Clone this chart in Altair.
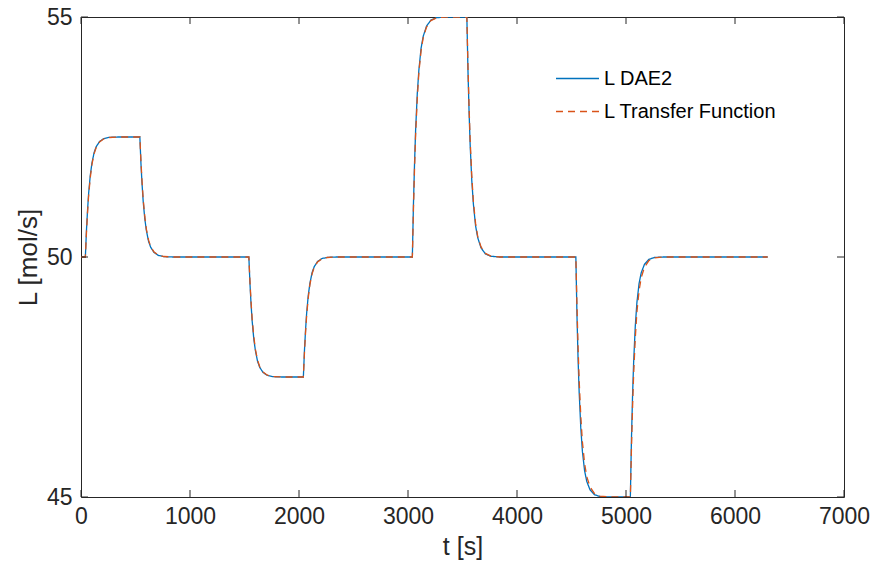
import altair as alt
import pandas as pd

# Step schedule
step_times = [40, 540, 1540, 2040, 3040, 3540, 4540, 5040]
step_levels = [52.5, 50.0, 47.5, 50.0, 55.0, 50.0, 45.0, 50.0]
t_start, t_end, L0 = 0, 6300, 50.0

# Shape of each transition (fraction of the step completed)
offsets = [0, 10, 20, 30, 45, 60, 80, 100, 130, 170, 220, 300]
frac_tf = [0, 0.20, 0.37, 0.51, 0.66, 0.77, 0.86, 0.915, 0.958, 0.985, 0.996, 1.0]
frac_dae = [0, 0.22, 0.39, 0.53, 0.68, 0.78, 0.87, 0.92, 0.962, 0.987, 0.997, 1.0]
frac_dae_fast = [0, 0.24, 0.42, 0.56, 0.71, 0.81, 0.89, 0.935, 0.97, 0.99, 0.998, 1.0]
fast_steps = [4540, 5040]

x_ticks = [0, 1000, 2000, 3000, 4000, 5000, 6000, 7000]
y_ticks = [45, 50, 55]

series_names = ["L DAE2", "L Transfer Function"]
colors = ["#0072BD", "#D95319"]


def build(fracs_for):
    ts, ls = [t_start], [L0]
    prev = L0
    for st, lv in zip(step_times, step_levels):
        fr = fracs_for(st)
        for o, f in zip(offsets, fr):
            ts.append(st + o)
            ls.append(prev + (lv - prev) * f)
        prev = lv
    ts.append(t_end)
    ls.append(prev)
    return ts, ls


t_dae, l_dae = build(lambda st: frac_dae_fast if st in fast_steps else frac_dae)
t_tf, l_tf = build(lambda st: frac_tf)

df_dae = pd.DataFrame({"t": t_dae, "L": l_dae, "series": series_names[0]})
df_tf = pd.DataFrame({"t": t_tf, "L": l_tf, "series": series_names[1]})

W, H = 763, 480
xscale = alt.Scale(domain=[0, 7000], nice=False, zero=False)
yscale = alt.Scale(domain=[45, 55], nice=False, zero=False)
color_scale = alt.Scale(domain=series_names, range=colors)
dash_scale = alt.Scale(domain=series_names, range=[[1, 0], [7, 5]])

legend = alt.Legend(
    title=None, orient="none", legendX=474, legendY=39,
    symbolType="stroke", symbolSize=1849, symbolStrokeWidth=1.3,
    labelFontSize=20, labelFont="Liberation Sans", labelColor="#000000",
    labelOffset=4, rowPadding=0, padding=0, labelLimit=400
)

xaxis = alt.Axis(values=x_ticks, format="d", ticks=False, domain=False, grid=False,
                 labelFlush=False,
                 labelFontSize=23, labelFont="Liberation Sans", labelColor="#262626",
                 labelPadding=8, title="t [s]", titleFontSize=25, titleFont="Liberation Sans",
                 titleFontWeight="normal", titleColor="#262626", titlePadding=6)
yaxis = alt.Axis(values=y_ticks, format="d", ticks=False, domain=False, grid=False,
                 labelFlush=False,
                 labelFontSize=23, labelFont="Liberation Sans", labelColor="#262626",
                 labelPadding=9, title="L [mol/s]", titleFontSize=26, titleFont="Liberation Sans",
                 titleFontWeight="normal", titleColor="#262626", titlePadding=5)


def line_layer(df):
    return alt.Chart(df).mark_line(strokeWidth=1.3, clip=True).encode(
        x=alt.X("t:Q", scale=xscale, axis=xaxis),
        y=alt.Y("L:Q", scale=yscale, axis=yaxis),
        color=alt.Color("series:N", scale=color_scale, legend=legend),
        strokeDash=alt.StrokeDash("series:N", scale=dash_scale, legend=legend),
        order=alt.Order("t:Q"),
    )


xt = pd.DataFrame({"t": x_ticks})
yt = pd.DataFrame({"L": y_ticks})
tick_color = "#262626"
ticks_bottom = alt.Chart(xt).mark_rule(color=tick_color, strokeWidth=1).encode(
    x=alt.X("t:Q", scale=xscale), y=alt.value(H), y2=alt.value(H - 7))
ticks_top = alt.Chart(xt).mark_rule(color=tick_color, strokeWidth=1).encode(
    x=alt.X("t:Q", scale=xscale), y=alt.value(0), y2=alt.value(7))
ticks_left = alt.Chart(yt).mark_rule(color=tick_color, strokeWidth=1).encode(
    y=alt.Y("L:Q", scale=yscale), x=alt.value(0), x2=alt.value(7))
ticks_right = alt.Chart(yt).mark_rule(color=tick_color, strokeWidth=1).encode(
    y=alt.Y("L:Q", scale=yscale), x=alt.value(W), x2=alt.value(W - 7))

chart = alt.layer(
    line_layer(df_dae), line_layer(df_tf),
    ticks_bottom, ticks_top, ticks_left, ticks_right
).properties(
    width=W, height=H,
    autosize=alt.AutoSizeParams(type="none"),
    padding={"left": 81, "top": 17, "right": 29, "bottom": 79},
    background="white",
).configure_view(stroke="#262626", strokeWidth=1)

chart.save("out.html", embed_options={"renderer": "svg", "actions": False})
